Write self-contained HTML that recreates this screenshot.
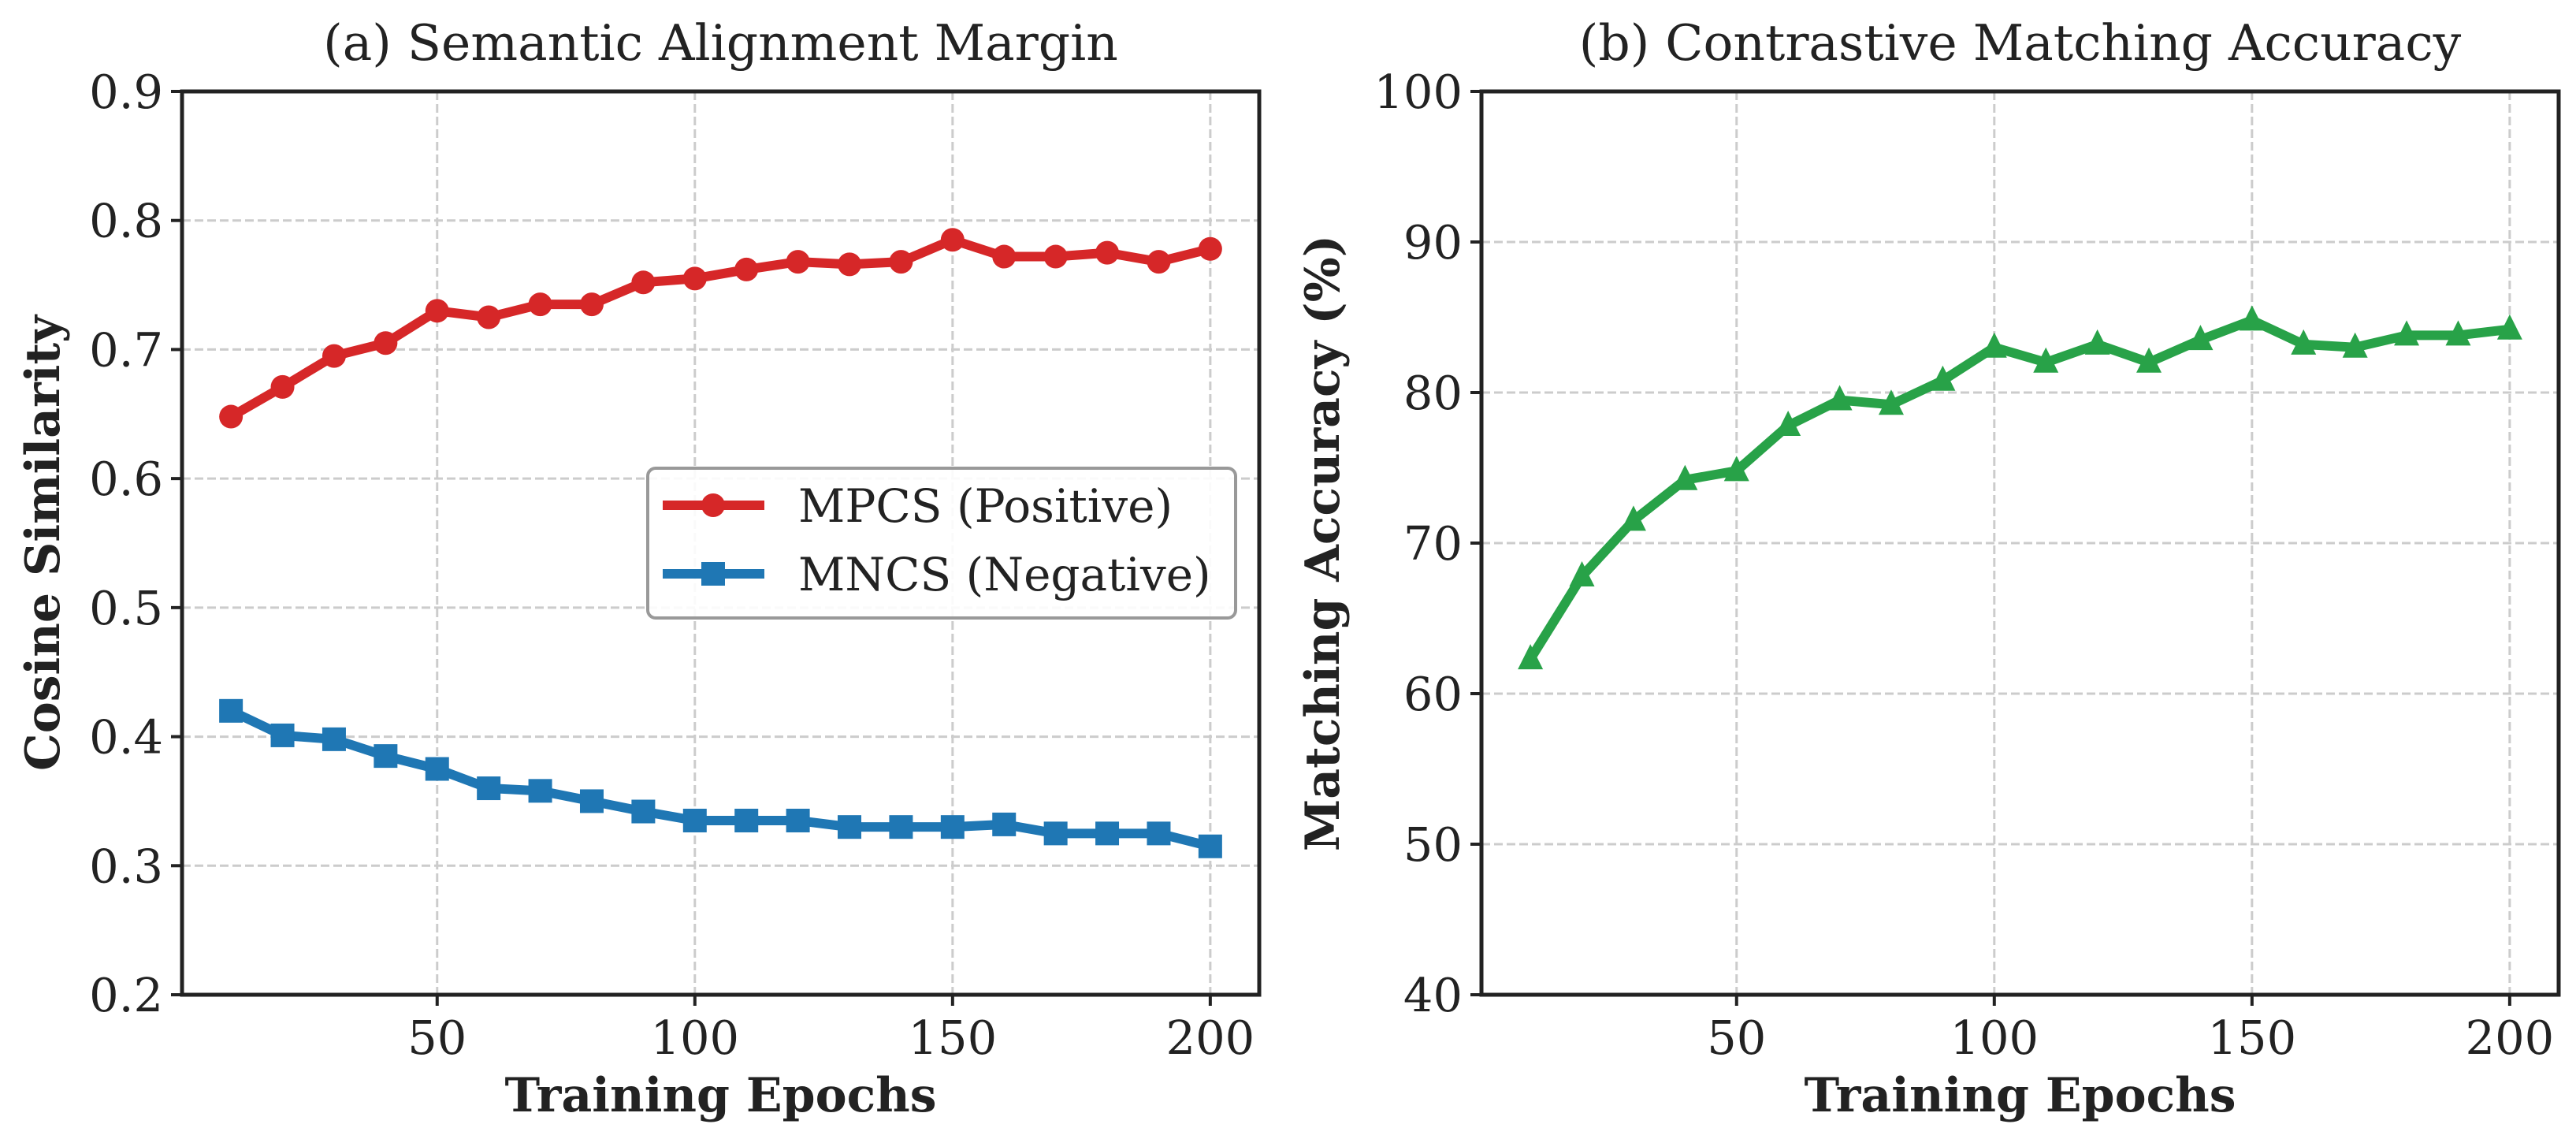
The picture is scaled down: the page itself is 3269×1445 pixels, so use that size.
<!DOCTYPE html>
<html><head><meta charset="utf-8"><style>
html,body{margin:0;padding:0;background:#fff;}
svg{display:block;font-family:"DejaVu Serif","Liberation Serif",serif;}
</style></head><body>
<svg id="fig" width="3269" height="1445" viewBox="0 0 3269 1445" xmlns="http://www.w3.org/2000/svg"></svg>
<script>
const epochs=[10,20,30,40,50,60,70,80,90,100,110,120,130,140,150,160,170,180,190,200];
const mpcs=[0.648,0.671,0.695,0.705,0.730,0.725,0.735,0.735,0.752,0.755,0.762,0.768,0.766,0.768,0.785,0.772,0.772,0.775,0.768,0.778];
const mncs=[0.420,0.401,0.398,0.385,0.375,0.360,0.358,0.350,0.342,0.335,0.335,0.335,0.330,0.330,0.330,0.332,0.325,0.325,0.325,0.315];
const accuracy=[62.3,67.8,71.5,74.2,74.8,77.8,79.5,79.2,80.8,83.0,82.0,83.2,82.0,83.5,84.8,83.2,83.0,83.8,83.8,84.2];
const xTicks=[50,100,150,200];
const yTicksA=[0.2,0.3,0.4,0.5,0.6,0.7,0.8,0.9];
const yTicksB=[40,50,60,70,80,90,100];

const NS="http://www.w3.org/2000/svg";
const svg=document.getElementById('fig');
function mk(tag,attrs,parent,text){const e=document.createElementNS(NS,tag);for(const k in attrs)e.setAttribute(k,attrs[k]);if(text!==undefined)e.textContent=text;(parent||svg).appendChild(e);return e;}

function panel(cfg){
  const g=mk('g',{});
  
  
  const L=cfg.left,R=cfg.left+1367,T=116,B=1262;
  const xmin=0.5,xmax=209.5;
  const sx=v=>L+(v-xmin)/(xmax-xmin)*(R-L);
  const sy=v=>B-(v-cfg.ymin)/(cfg.ymax-cfg.ymin)*(B-T);
  xTicks.forEach(t=>{const l=mk('line',{x1:sx(t),x2:sx(t),y1:T,y2:B,stroke:'#cccccc','stroke-width':3,'stroke-dasharray':'11 5'},g);
    });
  cfg.yTicks.forEach(t=>{const l=mk('line',{x1:L,x2:R,y1:sy(t),y2:sy(t),stroke:'#cccccc','stroke-width':3,'stroke-dasharray':'11 5'},g);
    });
  xTicks.forEach(t=>{mk('line',{x1:sx(t),x2:sx(t),y1:B,y2:B+14,stroke:'#222','stroke-width':4},g);
    const tx=mk('text',{x:sx(t),y:1337,'font-size':59,'text-anchor':'middle',fill:'#222'},g,String(t));
    });
  cfg.yTicks.forEach(t=>{mk('line',{x1:L-14,x2:L,y1:sy(t),y2:sy(t),stroke:'#222','stroke-width':4},g);
    const tx=mk('text',{x:L-24,y:sy(t)+21,'font-size':59,'text-anchor':'end',fill:'#222'},g,cfg.fmt(t));
    });
  cfg.series.forEach(s=>{
    const sg=mk('g',{},g);
    
    
    const pts=epochs.map((e,i)=>sx(e)+','+sy(s.data[i])).join(' ');
    mk('polyline',{points:pts,fill:'none',stroke:s.color,'stroke-width':12,'stroke-linejoin':'round','stroke-linecap':'round'},sg);
    epochs.forEach((e,i)=>{
      const x=sx(e),y=sy(s.data[i]);let m;
      if(s.marker==='o')m=mk('circle',{cx:x,cy:y,r:15,fill:s.color},sg);
      else if(s.marker==='s')m=mk('rect',{x:x-15,y:y-15,width:30,height:30,fill:s.color},sg);
      else m=mk('polygon',{points:`${x},${y-19} ${x-16},${y+13} ${x+16},${y+13}`,fill:s.color},sg);
      
    });
  });
  const sp=mk('rect',{x:L,y:T,width:R-L,height:B-T,fill:'none',stroke:'#222','stroke-width':5},g);
  
  const ti=mk('text',{x:(L+R)/2,y:76,'font-size':63,'text-anchor':'middle',fill:'#222'},g,cfg.title);
  
  const xl=mk('text',{x:(L+R)/2,y:1410,'font-size':60,'font-weight':'bold','text-anchor':'middle',fill:'#222'},g,'Training Epochs');
  
  const yx=cfg.ylabelX;
  const yl=mk('text',{x:yx,y:(T+B)/2,'font-size':60,'font-weight':'bold','text-anchor':'middle',fill:'#222',transform:`rotate(-90 ${yx} ${(T+B)/2})`},g,cfg.ylabel);
  
}

panel({name:'panel-a',left:231,ymin:0.2,ymax:0.9,yTicks:yTicksA,fmt:t=>t.toFixed(1),title:'(a) Semantic Alignment Margin',ylabel:'Cosine Similarity',ylabelX:75,
  series:[{name:'mpcs-series',data:mpcs,color:'#d62728',marker:'o'},{name:'mncs-series',data:mncs,color:'#1f77b4',marker:'s'}]});
panel({name:'panel-b',left:1880,ymin:40,ymax:100,yTicks:yTicksB,fmt:t=>String(t),title:'(b) Contrastive Matching Accuracy',ylabel:'Matching Accuracy (%)',ylabelX:1699,
  series:[{name:'accuracy-series',data:accuracy,color:'#28a248',marker:'^'}]});

const lg=mk('g',{});


mk('rect',{x:822,y:594,width:746,height:190,rx:10,fill:'#fff','fill-opacity':0.9,stroke:'#999','stroke-width':4},lg);
const e1=mk('g',{},lg);


mk('line',{x1:841,x2:970,y1:641,y2:641,stroke:'#d62728','stroke-width':12},e1);
mk('circle',{cx:905,cy:641,r:15,fill:'#d62728'},e1);
mk('text',{x:1013,y:662,'font-size':58,fill:'#222'},e1,'MPCS (Positive)');
const e2=mk('g',{},lg);


mk('line',{x1:841,x2:970,y1:728,y2:728,stroke:'#1f77b4','stroke-width':12},e2);
mk('rect',{x:890,y:713,width:30,height:30,fill:'#1f77b4'},e2);
mk('text',{x:1013,y:749,'font-size':58,fill:'#222'},e2,'MNCS (Negative)');
</script>
</body></html>
